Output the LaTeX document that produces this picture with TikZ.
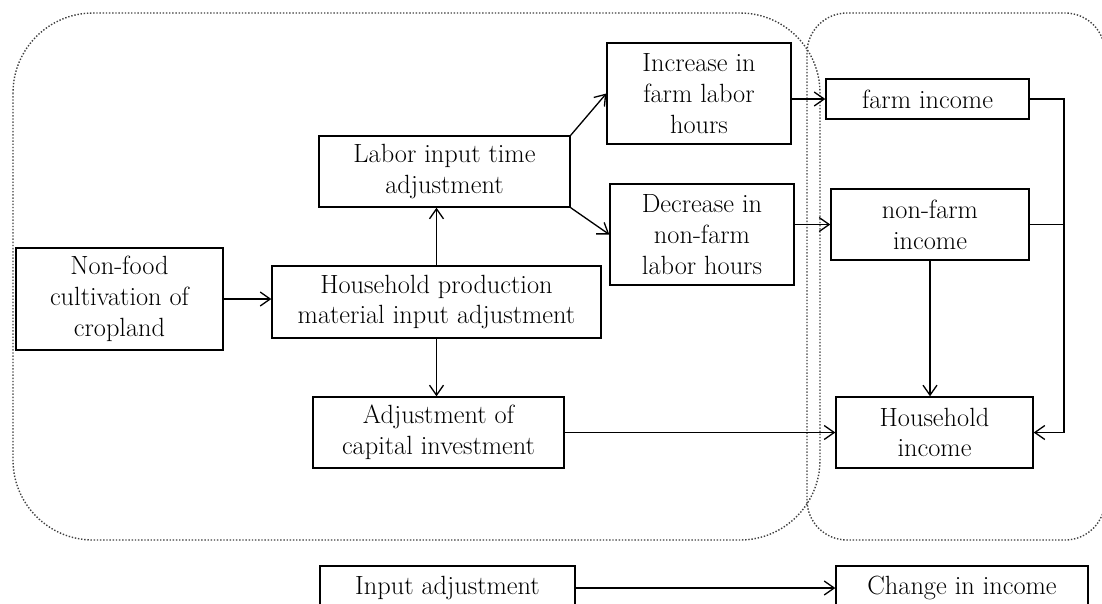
\documentclass[tikz,border=0pt]{standalone}
\usepackage{tikz}
\usetikzlibrary{arrows.meta}
\tikzset{>={Straight Barb[length=2mm,width=2.8mm]},every node/.style={font=\fontsize{15}{17.5}\selectfont},
  box/.style 2 args={draw,line width=.8pt,align=center,inner sep=0pt,minimum width=#1cm,minimum height=#2cm},
  link/.style={line width=.75pt,->},wire/.style={line width=.75pt},
  zone/.style={densely dotted,line width=.8pt,black!75}}

\begin{document}
\begin{tikzpicture}[x=.02cm,y=-.02cm]
\useasboundingbox (0,0) rectangle (1102,603);
% the two dotted groups
\draw[zone,rounded corners=1.6cm] (13,13) rectangle (820,540);
\draw[zone,rounded corners=.8cm] (807,13) rectangle (1105,540);
% adjustment side
\node[box={4.14}{2.04}] (nonfood) at (119.5,299) {Non-food\\cultivation of\\cropland};
\node[box={6.58}{1.44}] (hhprod) at (436.5,302) {Household production\\material input adjustment};
\node[box={5.02}{1.42}] (labor) at (444.5,171.5) {Labor input time\\adjustment};
\node[box={3.68}{2.02}] (incr) at (699,93.5) {Increase in\\farm labor\\hours};
\node[box={3.68}{2.02}] (decr) at (702,234.5) {Decrease in\\non-farm\\labor hours};
\node[box={5.02}{1.42}] (capital) at (438.5,432.5) {Adjustment of\\capital investment};
% income side
\node[box={4.06}{0.8}] (farminc) at (927.5,99) {farm income};
\node[box={3.96}{1.42}] (nonfarminc) at (930,224.5) {non-farm\\income};
\node[box={3.94}{1.42}] (hhinc) at (934.5,432.5) {Household\\income};
% legend row
\node[box={5.1}{0.88}] (inadj) at (447.5,588) {Input adjustment};
\node[box={5.04}{0.88}] (chinc) at (962,588) {Change in income};
\coordinate (rail) at (1064,99);
\draw[link] (nonfood.east) -- (nonfood.east -| hhprod.west);
\draw[link] (hhprod.north) -- (hhprod.north |- labor.south);
\draw[link] (hhprod.south) -- (hhprod.south |- capital.north);
\draw[link] (labor.north east) -- (incr.west);
\draw[link] (labor.south east) -- (decr.west);
\draw[link] (incr.east |- farminc.west) -- (farminc.west);
\draw[link] (decr.east |- nonfarminc.west) -- (nonfarminc.west);
\draw[link] (farminc.east) -- (rail) |- (hhinc.east);
\draw[wire] (nonfarminc.east) -- (nonfarminc.east -| rail);
\draw[link] (nonfarminc.south) -- (nonfarminc.south |- hhinc.north);
\draw[link] (capital.east) -- (hhinc.west);
\draw[link] (inadj.east) -- (chinc.west);
\end{tikzpicture}
\end{document}
